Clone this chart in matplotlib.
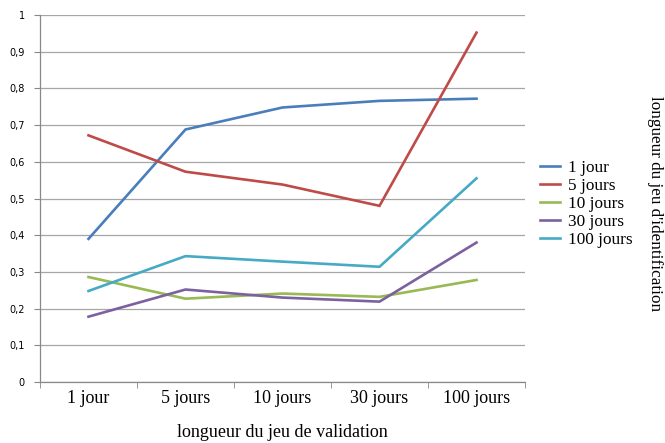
import matplotlib
matplotlib.use("Agg")
import matplotlib.pyplot as plt
from matplotlib.ticker import FuncFormatter, FixedLocator

categories = ["1 jour", "5 jours", "10 jours", "30 jours", "100 jours"]
series_names = ["1 jour", "5 jours", "10 jours", "30 jours", "100 jours"]
s_1 = [0.390, 0.688, 0.748, 0.766, 0.772]
s_5 = [0.672, 0.573, 0.538, 0.480, 0.952]
s_10 = [0.286, 0.227, 0.241, 0.232, 0.278]
s_30 = [0.178, 0.252, 0.230, 0.219, 0.380]
s_100 = [0.248, 0.343, 0.328, 0.314, 0.555]
y_ticks = [0, 0.1, 0.2, 0.3, 0.4, 0.5, 0.6, 0.7, 0.8, 0.9, 1]

colors = ["#4A7EBB", "#BE4B48", "#98B954", "#7D60A0", "#46AAC5"]
serif = "Liberation Serif"

fig = plt.figure(figsize=(6.65, 4.43), dpi=100)
ax = fig.add_axes([40 / 665, 61 / 443, 485 / 665, 367 / 443])

x = list(range(len(categories)))
for name, vals, c in zip(series_names, [s_1, s_5, s_10, s_30, s_100], colors):
    ax.plot(x, vals, color=c, lw=1.9, label=name, solid_joinstyle="miter")

ax.set_xlim(-0.5, len(categories) - 0.5)
ax.set_ylim(0, 1)
ax.set_yticks(y_ticks)
ax.yaxis.set_major_formatter(FuncFormatter(
    lambda v, p: ("%g" % round(v, 1)).replace(".", ",")))
ax.yaxis.grid(True, color="#a6a6a6", lw=0.9)
ax.set_axisbelow(True)

ax.set_xticks(x)
ax.set_xticklabels(categories, fontfamily=serif, fontsize=13)
ax.xaxis.set_minor_locator(FixedLocator([i - 0.5 for i in range(len(categories) + 1)]))
ax.tick_params(axis="x", which="major", length=0, pad=6)
ax.tick_params(axis="x", which="minor", length=4, color="#888888", direction="out")
ax.tick_params(axis="y", length=4, color="#888888", labelsize=7, pad=7)

for side in ["top", "right"]:
    ax.spines[side].set_visible(False)
for side in ["left", "bottom"]:
    ax.spines[side].set_color("#888888")
    ax.spines[side].set_linewidth(0.9)

ax.set_xlabel("longueur du jeu de validation", fontfamily=serif, fontsize=13, labelpad=12)

fig.text(655 / 665, (443 - 204) / 443, "longueur du jeu d'identification",
         rotation=-90, fontfamily=serif, fontsize=12.3, ha="center", va="center")

leg = fig.legend(loc="center left", bbox_to_anchor=(538 / 665, (443 - 204) / 443),
                 frameon=False, prop={"family": serif, "size": 12.4},
                 handlelength=1.15, handletextpad=0.5, labelspacing=0.12,
                 borderpad=0.1, borderaxespad=0)

fig.savefig("out.png", dpi=100)
